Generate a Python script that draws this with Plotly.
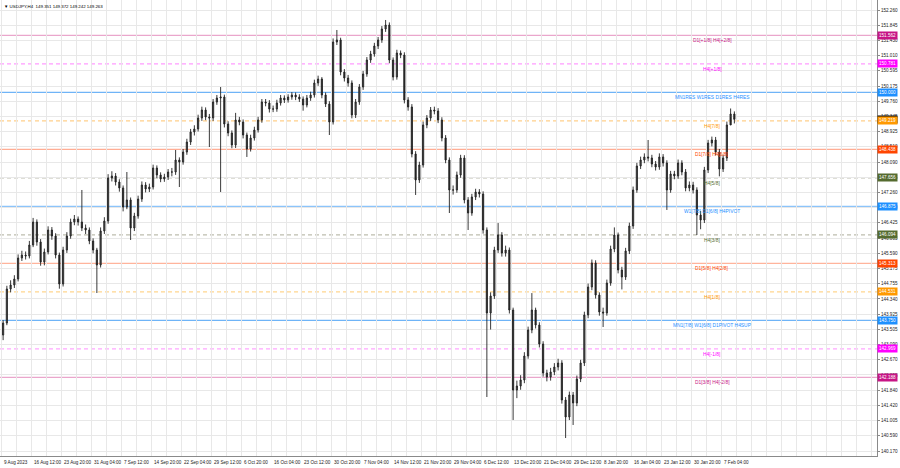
import plotly.graph_objects as go

# ---------------- data ----------------
header_text = "\u25BC USDJPY,H4  149.351 149.372 149.242 149.263"
bars_per_candle = 4  # each drawn candle aggregates 4 H4 bars

opens = [143.351, 143.680, 144.612, 144.721, 144.886, 145.462, 145.544, 145.517, 145.818, 146.448,
         145.900, 145.352, 145.626, 146.229, 146.065, 145.544, 144.749, 145.681, 146.065, 146.448,
         146.531, 146.448, 146.284, 146.229, 145.928, 145.681, 145.270, 146.202, 146.476, 147.655,
         147.709, 147.545, 147.381, 146.860, 147.052, 146.284, 146.613, 147.079, 147.463, 147.353,
         147.408, 147.929, 147.737, 147.627, 147.682, 147.819, 147.819, 148.148, 148.093, 148.367,
         148.641, 148.916, 148.998, 149.299, 149.519, 149.327, 149.299, 149.738, 149.848, 149.875,
         149.135, 148.888, 148.559, 149.245, 149.190, 148.833, 148.450, 148.751, 148.970, 149.245,
         149.738, 149.711, 149.546, 149.546, 149.711, 149.848, 149.793, 149.875, 149.930, 149.875,
         149.820, 149.656, 149.848, 149.930, 150.259, 150.368, 149.930, 149.683, 149.190, 151.383,
         151.438, 150.560, 150.396, 150.259, 149.382, 149.738, 150.149, 150.506, 150.889, 151.054,
         151.273, 151.438, 151.739, 151.849, 150.889, 150.423, 151.081, 151.026, 149.793, 149.601,
         148.313, 147.600, 148.011, 149.108, 149.299, 149.519, 149.491, 149.245, 148.751, 148.148,
         147.326, 147.326, 147.737, 148.203, 147.052, 146.695, 147.134, 147.271, 147.216, 146.229,
         143.954, 144.420, 145.681, 146.092, 145.599, 145.681, 144.036, 141.843, 141.953, 142.118,
         142.775, 143.488, 144.036, 143.625, 143.104, 142.309, 142.200, 142.337, 142.474, 142.583,
         141.569, 141.103, 141.706, 141.487, 142.145, 142.583, 143.899, 144.667, 145.325, 144.447,
         143.981, 143.954, 144.776, 145.708, 146.092, 145.133, 144.941, 145.654, 146.339, 147.326,
         147.984, 148.148, 148.231, 148.203, 148.038, 147.956, 148.231, 148.066, 147.326, 147.764,
         147.709, 148.066, 147.819, 147.381, 147.463, 147.326, 146.640, 146.503, 147.874, 148.614,
         148.696, 148.367, 147.901, 148.203, 149.108, 149.409]

highs = [143.760, 144.700, 144.850, 144.990, 145.560, 145.660, 145.640, 145.930, 146.560, 146.520,
         145.980, 145.720, 146.330, 146.310, 146.140, 145.610, 145.770, 146.170, 146.540, 146.640,
         146.600, 147.326, 146.380, 146.300, 146.000, 145.740, 146.300, 146.580, 147.760, 147.840,
         147.790, 147.620, 147.450, 147.819, 147.120, 146.700, 147.170, 147.560, 147.540, 147.500,
         148.020, 148.000, 147.810, 147.770, 147.900, 147.930, 148.422, 148.220, 148.450, 148.730,
         149.000, 149.100, 149.390, 149.610, 149.590, 149.410, 149.820, 149.930, 150.149, 149.940,
         149.210, 148.960, 149.440, 149.330, 149.260, 148.900, 148.840, 149.060, 149.330, 149.820,
         149.820, 149.790, 149.640, 149.800, 149.930, 149.920, 149.950, 150.010, 150.000, 149.950,
         149.890, 149.930, 150.020, 150.350, 150.460, 150.420, 150.000, 149.760, 151.480, 151.712,
         151.500, 150.640, 150.480, 150.330, 149.820, 150.230, 150.590, 150.970, 151.140, 151.360,
         151.520, 151.820, 151.986, 151.920, 150.960, 151.170, 151.150, 151.100, 149.870, 149.680,
         148.390, 148.100, 149.200, 149.380, 149.600, 149.610, 149.570, 149.320, 148.830, 148.220,
         147.450, 147.830, 148.290, 148.280, 147.130, 147.220, 147.360, 147.350, 147.290, 146.300,
         144.520, 145.770, 146.420, 146.170, 145.800, 145.750, 144.100, 142.100, 142.250, 142.880,
         143.580, 144.500, 144.100, 143.700, 143.180, 142.400, 142.450, 142.580, 142.700, 142.660,
         141.650, 141.800, 141.790, 142.240, 142.670, 143.990, 144.760, 145.420, 145.400, 144.520,
         144.100, 144.870, 145.800, 146.300, 146.160, 145.220, 145.740, 146.430, 147.420, 148.070,
         148.240, 148.330, 148.696, 148.290, 148.120, 148.330, 148.310, 148.140, 147.850, 147.850,
         148.160, 148.140, 147.900, 147.560, 147.550, 147.400, 146.750, 147.960, 148.700, 148.790,
         148.780, 148.450, 148.290, 149.200, 149.560, 149.480]

lows = [143.210, 143.620, 144.520, 144.640, 144.820, 145.380, 145.420, 145.450, 145.760, 145.800,
        145.250, 145.260, 145.560, 145.960, 145.450, 144.620, 144.680, 145.600, 145.990, 146.360,
        146.350, 146.200, 146.120, 145.840, 145.590, 144.502, 145.200, 146.120, 146.400, 147.560,
        147.450, 147.280, 146.740, 146.800, 145.955, 146.200, 146.540, 147.000, 147.260, 147.270,
        147.340, 147.650, 147.540, 147.550, 147.600, 147.700, 147.740, 147.408, 148.020, 148.290,
        148.560, 148.820, 148.930, 149.220, 149.240, 148.504, 149.220, 149.660, 147.271, 149.040,
        148.800, 148.470, 148.477, 149.100, 148.740, 148.231, 148.380, 148.680, 148.900, 149.170,
        149.620, 149.450, 149.460, 149.470, 149.640, 149.710, 149.720, 149.800, 149.790, 149.740,
        149.500, 149.590, 149.770, 149.860, 150.180, 149.840, 149.600, 148.833, 149.120, 151.300,
        150.470, 150.300, 150.160, 149.290, 149.300, 149.660, 150.070, 150.430, 150.810, 150.980,
        151.190, 151.360, 151.660, 150.800, 150.330, 150.350, 150.940, 149.700, 149.500, 148.220,
        147.189, 147.520, 147.940, 149.020, 149.220, 149.400, 149.160, 148.660, 148.060, 146.695,
        147.200, 147.250, 147.660, 146.960, 146.229, 146.620, 147.050, 147.120, 146.130, 141.651,
        143.500, 144.340, 145.600, 145.500, 145.500, 143.940, 141.021, 141.620, 141.850, 142.030,
        142.700, 143.400, 143.530, 143.010, 142.210, 142.080, 142.100, 142.250, 142.380, 141.470,
        140.527, 141.020, 140.884, 141.400, 142.060, 142.500, 143.810, 144.580, 144.350, 143.880,
        143.570, 143.880, 144.700, 145.620, 145.040, 144.600, 144.860, 145.570, 146.260, 147.250,
        147.900, 148.060, 148.110, 147.950, 147.860, 147.880, 147.970, 146.778, 147.250, 147.620,
        147.630, 147.730, 147.290, 147.290, 147.230, 146.092, 146.250, 146.420, 147.790, 148.520,
        148.270, 147.700, 147.820, 148.120, 149.320, 149.150]

closes = [143.680, 144.612, 144.721, 144.886, 145.462, 145.544, 145.517, 145.818, 146.448, 145.900,
          145.352, 145.626, 146.229, 146.065, 145.544, 144.749, 145.681, 146.065, 146.448, 146.531,
          146.448, 146.284, 146.229, 145.928, 145.681, 145.270, 146.202, 146.476, 147.655, 147.709,
          147.545, 147.381, 146.860, 147.052, 146.284, 146.613, 147.079, 147.463, 147.353, 147.408,
          147.929, 147.737, 147.627, 147.682, 147.819, 147.819, 148.148, 148.093, 148.367, 148.641,
          148.916, 148.998, 149.299, 149.519, 149.327, 149.299, 149.738, 149.848, 149.875, 149.135,
          148.888, 148.559, 149.245, 149.190, 148.833, 148.450, 148.751, 148.970, 149.245, 149.738,
          149.711, 149.546, 149.546, 149.711, 149.848, 149.793, 149.875, 149.930, 149.875, 149.820,
          149.656, 149.848, 149.930, 150.259, 150.368, 149.930, 149.683, 149.190, 151.383, 151.438,
          150.560, 150.396, 150.259, 149.382, 149.738, 150.149, 150.506, 150.889, 151.054, 151.273,
          151.438, 151.739, 151.849, 150.889, 150.423, 151.081, 151.026, 149.793, 149.601, 148.313,
          147.600, 148.011, 149.108, 149.299, 149.519, 149.491, 149.245, 148.751, 148.148, 147.326,
          147.326, 147.737, 148.203, 147.052, 146.695, 147.134, 147.271, 147.216, 146.229, 143.954,
          144.420, 145.681, 146.092, 145.599, 145.681, 144.036, 141.843, 141.953, 142.118, 142.775,
          143.488, 144.036, 143.625, 143.104, 142.309, 142.200, 142.337, 142.474, 142.583, 141.569,
          141.103, 141.706, 141.487, 142.145, 142.583, 143.899, 144.667, 145.325, 144.447, 143.981,
          143.954, 144.776, 145.708, 146.092, 145.133, 144.941, 145.654, 146.339, 147.326, 147.984,
          148.148, 148.231, 148.203, 148.038, 147.956, 148.231, 148.066, 147.326, 147.764, 147.709,
          148.066, 147.819, 147.381, 147.463, 147.326, 146.640, 146.503, 147.874, 148.614, 148.696,
          148.367, 147.901, 148.203, 149.108, 149.409, 149.263]

current_price = 149.263
current_label = "149.263"

level_prices = [151.562, 150.781, 150.000, 149.219, 148.438, 147.656, 146.875,
                146.094, 145.313, 144.531, 143.750, 142.969, 142.188]
level_names = ["D1[+1/8] H4[+2/8]", "H4[+1/8]", "MN1RES W1RES D1RES H4RES", "H4[7/8]",
               "D1[7/8] H4[6/8]", "H4[5/8]", "W1[7/8] D1[6/8] H4PIVOT", "H4[3/8]",
               "D1[5/8] H4[2/8]", "H4[1/8]", "MN1[7/8] W1[6/8] D1PIVOT H4SUP", "H4[-1/8]",
               "D1[3/8] H4[-2/8]"]
level_labels = ["151.562", "150.781", "150.000", "149.219", "148.438", "147.656", "146.875",
                "146.094", "145.313", "144.531", "143.750", "142.969", "142.188"]

price_ticks = [152.260, 151.845, 151.430, 151.010, 150.595, 150.175, 149.760, 149.345, 148.925,
               148.510, 148.090, 147.675, 147.260, 146.840, 146.425, 146.005, 145.590, 145.175,
               144.755, 144.340, 143.925, 143.505, 143.090, 142.670, 142.255, 141.840, 141.420,
               141.005, 140.590, 140.170]
price_tick_text = ["152.260", "151.845", "151.430", "151.010", "150.595", "150.175", "149.760",
                   "149.345", "148.925", "148.510", "148.090", "147.675", "147.260", "146.840",
                   "146.425", "146.005", "145.590", "145.175", "144.755", "144.340", "143.925",
                   "143.505", "143.090", "142.670", "142.255", "141.840", "141.420", "141.005",
                   "140.590", "140.170"]

date_labels = ["9 Aug 2023", "16 Aug 12:00", "23 Aug 20:00", "31 Aug 04:00", "7 Sep 12:00",
               "14 Sep 20:00", "22 Sep 04:00", "29 Sep 12:00", "6 Oct 20:00", "16 Oct 04:00",
               "23 Oct 12:00", "30 Oct 20:00", "7 Nov 04:00", "14 Nov 12:00", "21 Nov 20:00",
               "29 Nov 04:00", "6 Dec 12:00", "13 Dec 20:00", "21 Dec 04:00", "29 Dec 12:00",
               "8 Jan 20:00", "16 Jan 04:00", "23 Jan 12:00", "30 Jan 20:00", "7 Feb 04:00"]
bars_per_date_label = 32

# ---------------- styles ----------------
BLUE = "#1e90ff"; MAG = "#ff00ff"; MVR = "#c71585"; ORG = "#ff9900"; ORED = "#ff4500"; OLV = "#556b2f"
level_text_colors = [MVR, MAG, BLUE, ORG, ORED, OLV, BLUE, OLV, ORED, ORG, BLUE, MAG, MVR]
level_line_colors = ["#eaa6cc", "#ff9cff", "#6fb4f7", "#ffcf8a", "#ffad94", "#bdbdae", "#8cc4fa",
                     "#bdbdae", "#ffb49c", "#ffd68f", "#6fb4f7", "#ffa6ff", "#eaa6cc"]
level_dashes = ["solid", "4px,3px", "solid", "4px,3px", "solid", "4px,3px", "solid",
                "4px,3px", "solid", "4px,3px", "solid", "4px,3px", "solid"]
level_box_colors = [MVR, MAG, BLUE, ORG, ORED, OLV, BLUE, OLV, ORED, ORG, BLUE, MAG, MVR]

FONT = "Liberation Sans, Arial, sans-serif"
PX_PER_BAR = 30.0 / 32.0
X0_PX = 1.7
PLOT_W = 877
x_min = -X0_PX / PX_PER_BAR
x_max = (PLOT_W - X0_PX) / PX_PER_BAR

candle_x = [bars_per_candle * i + (bars_per_candle - 1) / 2 for i in range(len(closes))]

fig = go.Figure()
fig.add_trace(go.Candlestick(
    x=candle_x, open=opens, high=highs, low=lows, close=closes,
    increasing=dict(line=dict(color="#222222", width=0.9), fillcolor="#555555"),
    decreasing=dict(line=dict(color="#222222", width=0.9), fillcolor="#222222"),
    whiskerwidth=0, showlegend=False, hoverinfo="skip"))

shapes = []
annotations = []
for i, p in enumerate(level_prices):
    shapes.append(dict(type="line", xref="paper", x0=0, x1=1, yref="y", y0=p, y1=p,
                       line=dict(color=level_line_colors[i], width=1.3, dash=level_dashes[i]),
                       layer="between"))
    annotations.append(dict(x=(712 - X0_PX) / PX_PER_BAR, y=p, xref="x", yref="y",
                            text=level_names[i], showarrow=False, xanchor="center",
                            yanchor="top", yshift=-1,
                            font=dict(family=FONT, size=4.9, color=level_text_colors[i])))

# current price box (drawn first so the H4[7/8] box sits on top)
annotations.append(dict(x=1, y=current_price, xref="paper", yref="y", text=current_label,
                        showarrow=False, xanchor="left", yanchor="middle", xshift=0,
                        bgcolor="#000000", borderpad=1,
                        font=dict(family=FONT, size=4.6, color="#ffffff")))
for i, p in enumerate(level_prices):
    annotations.append(dict(x=1, y=p, xref="paper", yref="y", text=level_labels[i],
                            showarrow=False, xanchor="left", yanchor="middle", xshift=0,
                            bgcolor=level_box_colors[i], borderpad=1,
                            font=dict(family=FONT, size=4.6, color="#ffffff")))

for j, lab in enumerate(date_labels):
    annotations.append(dict(x=j * bars_per_date_label, y=0, xref="x", yref="paper", text=lab,
                            showarrow=False, xanchor="left", yanchor="top", yshift=-2, xshift=0,
                            font=dict(family=FONT, size=4.6, color="#222222")))

annotations.append(dict(x=0, y=1, xref="paper", yref="paper", text=header_text, showarrow=False,
                        xanchor="left", yanchor="top", xshift=2, yshift=-2,
                        font=dict(family=FONT, size=4.4, color="#000000")))

fig.update_layout(
    width=900, height=468,
    margin=dict(l=0, r=900 - PLOT_W, t=0, b=12, pad=0, autoexpand=False),
    paper_bgcolor="#ffffff", plot_bgcolor="#ffffff",
    shapes=shapes, annotations=annotations,
    showlegend=False, hovermode=False, boxgap=0.55,
    xaxis=dict(range=[x_min, x_max], rangeslider=dict(visible=False), automargin=False,
               tickvals=list(range(0, int(x_max) + 1, 16)), showticklabels=False,
               showgrid=True, gridcolor="#e8e8e8", gridwidth=1, zeroline=False,
               showline=True, linecolor="#8a8a8a", linewidth=1, mirror=True, ticks=""),
    yaxis=dict(range=[140.034, 152.534], side="right", tickvals=price_ticks, automargin=False,
               ticktext=price_tick_text, showgrid=True, gridcolor="#e8e8e8", gridwidth=1,
               zeroline=False, showline=True, linecolor="#8a8a8a", linewidth=1, mirror=True,
               ticks="outside", ticklen=2, tickcolor="#8a8a8a",
               tickfont=dict(family=FONT, size=4.6, color="#222222")),
)

fig.write_html("out.html", config={"displayModeBar": False},
               post_script="document.body.style.margin='0';document.body.style.padding='0';")
